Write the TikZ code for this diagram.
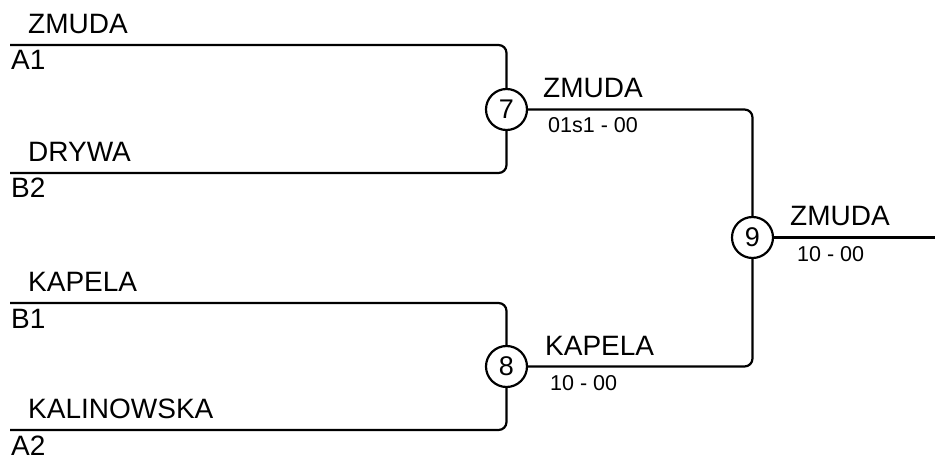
\documentclass[tikz,border=0pt]{standalone}
\usepackage{fontspec}
\setmainfont{Liberation Sans}
\begin{document}
\begin{tikzpicture}[x=1pt,y=-1pt,
  bracketline/.style={line width=2.2pt, rounded corners=8pt},
  teamlbl/.style={anchor=base west, inner sep=0pt, font=\fontsize{28}{32}\selectfont},
  scorelbl/.style={anchor=base west, inner sep=0pt, font=\fontsize{21.5}{25}\selectfont},
  gamenode/.style={circle, draw, line width=2.2pt, minimum size=41pt, inner sep=0pt, font=\fontsize{27}{30}\selectfont}]
\useasboundingbox (0,0) rectangle (935,457);
% match nodes
\node[gamenode] (c7) at (506.5,109.5) {7};
\node[gamenode] (c8) at (506.5,366.5) {8};
\node[gamenode] (c9) at (752.5,237.5) {9};
% line ends
\coordinate (a1) at (10,45);
\coordinate (b2) at (10,173);
\coordinate (b1) at (10,303);
\coordinate (a2) at (10,430);
\coordinate (fin) at (935,237.5);
% connectors
\draw[bracketline] (a1) -| (c7.north);
\draw[bracketline] (b2) -| (c7.south);
\draw[bracketline] (b1) -| (c8.north);
\draw[bracketline] (a2) -| (c8.south);
\draw[bracketline] (c7.east) -| (c9.north);
\draw[bracketline] (c8.east) -| (c9.south);
\draw[bracketline] (c9.east) -- (fin);
% names
\node[teamlbl] (n1) at (28,34) {ZMUDA};
\node[teamlbl] (s1) at (11,70) {A1};
\node[teamlbl] (n2) at (28,162) {DRYWA};
\node[teamlbl] (s2) at (11,198) {B2};
\node[teamlbl] (n3) at (28,292) {KAPELA};
\node[teamlbl] (s3) at (11,328) {B1};
\node[teamlbl] (n4) at (28,418) {KALINOWSKA};
\node[teamlbl] (s4) at (11,455) {A2};
\node[teamlbl] (w7) at (543,98) {ZMUDA};
\node[scorelbl] (r7) at (548,133) {01s1 - 00};
\node[teamlbl] (w8) at (545,355) {KAPELA};
\node[scorelbl] (r8) at (550,390) {10 - 00};
\node[teamlbl] (w9) at (790,226) {ZMUDA};
\node[scorelbl] (r9) at (797,262) {10 - 00};
\end{tikzpicture}
\end{document}
